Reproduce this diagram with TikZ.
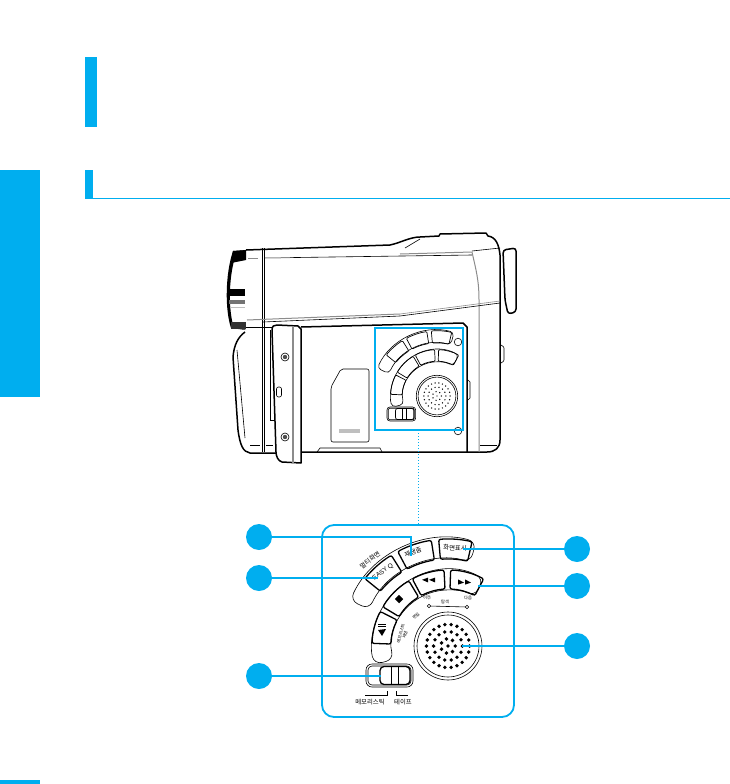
\documentclass[tikz,border=0pt]{standalone}
\usepackage{fontspec}
\setsansfont{Liberation Sans}
\newfontfamily\cjk{Noto Sans CJK KR}
\usepackage{xcolor}
\usepackage{tikz}
\usetikzlibrary{positioning,arrows.meta}
\definecolor{tabblue}{HTML}{00AEEF}
\tikzset{
  % --- page furniture and callouts --------------------------------------------
  band/.style={fill=tabblue,draw=none},
  bullet/.style={circle,fill=tabblue,inner sep=0pt,minimum size=26pt},
  lead/.style={tabblue,line width=1.6pt},
  % --- camera line work --------------------------------------------------------
  hull/.style={black,line width=1.5pt,line join=round},
  fine/.style={black,line width=0.6pt},
  pale/.style={black!45,line width=1pt},
  % --- printed labels -----------------------------------------------------------
  klab/.style={font=\cjk\fontsize{6.4}{7}\selectfont,inner sep=0pt},
  ksmall/.style={font=\cjk\fontsize{4.2}{4.6}\selectfont,inner sep=0pt,align=center},
  % ring sector for the keys: angles, then inner and outer radius
  keysec/.style n args={4}{insert path={
    (#1:#4) arc[start angle=#1,end angle=#2,radius=#4] --
    (#2:#3) arc[start angle=#2,end angle=#1,radius=#3] -- cycle}},
  % the key field; #1 key line width, #2 corner radius, #3 dot radius
  pics/keypad/.style n args={3}{code={
    \begin{scope}[yscale=-1]
      \draw[fine,rounded corners=4*#2,keysec={75}{155}{87}{108}];
      \draw[fine,rounded corners=4*#2,keysec={62}{194}{56}{76}];
      \foreach \aa/\ab in {77/95,99/118,122/141}
        \draw[line width=#1,rounded corners=#2,keysec={\aa}{\ab}{87}{107}];
      \foreach \aa/\ab in {62/88,93/118,121/149,153/178}
        \draw[line width=#1,rounded corners=#2,keysec={\aa}{\ab}{57}{76}];
      \draw[fine] (0,0) circle[radius=34];
      \draw[fine] (0,0) circle[radius=31];
      \fill (0,0) circle[radius=#3];
      \foreach \rr/\nn in {7.2/7,14.4/14,21.6/22}
        \foreach \ii in {1,...,\nn}
          \fill (\ii*360/\nn:\rr) circle[radius=#3];
      \draw[fine,rounded corners=3*#2] (-82,-18) rectangle (-35,-41);
      \draw[fine,rounded corners=2*#2] (-80,-20) rectangle (-37,-39);
      \draw[line width=#1,rounded corners=2*#2] (-68,-20.5) rectangle (-38,-38.5);
      \draw[fine] (-57,-20.5) -- (-57,-38.5) (-50,-20.5) -- (-50,-38.5);
    \end{scope}
  }},
}
\begin{document}
\begin{tikzpicture}[x=1pt,y=-1pt]
  \useasboundingbox (0,0) rectangle (730,784);
  % page furniture
  \fill[band] (85,57) rectangle (97,127);
  \fill[band] (85,170) rectangle (93,199);
  \fill[band] (93,198) rectangle (730,199.2);
  \fill[band] (0,170) rectangle (40,397);
  \fill[band] (0,780) rectangle (40,784);

  % lens
  \fill (247,250) -- (233,251) .. controls (225,275) and (225,310) .. (231,328) -- (246,330)
    -- (233,325) .. controls (228,305) and (229,275) .. (236,254) -- cycle;
  \fill (233,251) -- (246,250) -- (246,260) -- (231,263) -- cycle;
  \fill (229,289) rectangle (245,296);
  \fill[black!55] (229,300) rectangle (245,304);
  \fill[black!25] (230,307) rectangle (245,308);
  \fill[black!80] (231,322) rectangle (246,329);

  % body
  \draw[hull] (246,250) -- (390,245) .. controls (400,243) and (410,237) .. (420,237) -- (439,236)
    -- (440,234) -- (486,233) -- (488,236) .. controls (496,237) and (499,245) .. (500,255)
    -- (500,440) .. controls (500,448) and (495,452) .. (487,452) -- (301,452);
  \draw[hull] (245,332) .. controls (238,337) and (234,345) .. (233,357) -- (238,430)
    .. controls (240,445) and (243,452) .. (250,453) -- (276,453);
  \draw[fine] (237,350) -- (245,438);
  \draw[fine] (262,248) -- (262,452);
  \draw[fine] (264,248) -- (264,452);
  \draw[pale] (248,258) -- (258,258);
  \draw[pale] (265,258) -- (290,257.6);
  \draw[fine] (290,257.6) -- (472,255);
  \draw[fine] (405,248) -- (420,239);
  \draw[pale] (400,254) -- (472,252);
  \draw[fine] (472,251) -- (500,248);
  \draw[pale] (472,252) .. controls (476,270) and (479,280) .. (479,300) -- (479,452);
  \draw[pale] (247,320) -- (400,314);
  \draw[fine] (263,322) -- (400,316) -- (500,303);
  \draw[pale,line width=.6pt] (400,314) -- (500,301);
  \draw[fine,line width=1pt] (246,327) -- (272,327);
  \draw[fine] (250,445) -- (260,445) (266,445) -- (273,445);
  \draw[fine] (270,330) -- (270,420) -- (274,420);
  \draw[fine] (317,452) -- (320,448) -- (380,448) -- (382,452);
  \draw[fine] (480,445) -- (497,445);

  % eyepiece
  \draw[hull,rounded corners=3pt] (503,250) -- (516,248) -- (516,312) -- (508,314) -- (505,300) -- cycle;
  \draw[fine,rounded corners=1pt] (501,345) -- (504,347) -- (504,361) -- (501,363);

  % display door
  \draw[hull] (272,330) .. controls (272,326) and (274,325) .. (277,325) -- (298,326)
    -- (301,329) -- (301,463) -- (282,462) .. controls (278,461) and (276,456) .. (276,452) -- cycle;
  \draw[pale,line width=1.2pt] (293,326) -- (293,463);
  \foreach \sy in {357,437} {
    \draw[fine] (285,\sy) circle[radius=4];
    \fill[black!70] (285,\sy) circle[radius=2.2];
  }
  \draw[fine,rounded corners=2pt] (276.5,387) rectangle (281.5,397);

  % side panel
  \draw[hull] (301,327) -- (463,323) -- (467,327) -- (467,452);
  \draw[fine,rounded corners=2pt] (331,387) -- (341,369) -- (369,369) -- (369,442) -- (331,442) -- cycle;
  \fill[black!25] (339,429) rectangle (360,433);
  \draw[fine] (458,342) circle[radius=3.8];
  \draw[fine] (458,431) circle[radius=3.8];
  \draw[fine] (468,380) -- (470,382) -- (470,398) -- (468,400);
  \pic[scale=.61] at (437,396) {keypad={.7pt}{1pt}{1.2}};
  \draw[lead] (375,328) rectangle (463,430);

  % dotted link to the enlarged view
  \coordinate (zoomtop) at (418,430);
  \coordinate (zoomend) at (418,524);
  \draw[tabblue,line width=1pt,dotted] (zoomtop) -- (zoomend);

  % enlarged view
  \node[draw=tabblue,line width=1.8pt,rounded corners=12pt,minimum width=192pt,minimum height=192pt,inner sep=0pt] (frame) at (418,621) {};
  \pic at (448,646) {keypad={1.3pt}{2pt}{1.9}};

  % key symbols
  \fill[rotate around={45:(399,599)}] (396,596) rectangle (402,602);
  \foreach \tx in {425,432} \fill (\tx-3,579.8) -- (\tx+3,577.6) -- (\tx+3,582.4) -- cycle;
  \foreach \tx in {461,468} \fill (\tx+3,582.6) -- (\tx-3,579.4) -- (\tx-3,584.6) -- cycle;
  \fill (382,636) -- (378,630) -- (386,629) -- cycle;
  \fill (378,626) rectangle (386,627);
  \fill (378,623.6) rectangle (386,624.6);

  % printed labels
  \node[klab,rotate=37] (lbwide) at (370,560) {멀티화면};
  \node[font=\sffamily\fontsize{6.4}{7}\selectfont,inner sep=0pt,rotate=37] (lbeasy) at (383,572) {EASY Q};
  \node[klab,rotate=20] (lbzoom) at (413,552) {재생줌};
  \node[klab,rotate=-3] (lbinfo) at (455,548) {화면표시};
  \node[ksmall,rotate=5] (lbprev) at (427,598) {이전};
  \node[ksmall] (lbseek) at (445,602) {탐색};
  \node[ksmall] (lbnext) at (468,598) {다음};
  \node[ksmall,rotate=45] (lbedit) at (416,616) {편집};
  \node[ksmall,rotate=75] (lbplay) at (403,634) {메모리스틱\\재생};
  \draw[fine] (429,606) -- (467,607);
  \draw[fine,fill=white] (429,606) circle[radius=1.8] (467,607) circle[radius=1.8];
  \node[klab] (lbstick) at (370,702) {메모리스틱};
  \node[klab] (lbtape) at (403,702) {테이프};
  \draw[fine] (365,695) -- (387,695) -- (387,691);
  \draw[fine] (396,691) -- (396,695) -- (408,695);

  % callouts
  \node[bullet] (b1) at (259,537) {};
  \node[bullet] (b2) at (259,578) {};
  \node[bullet] (b3) at (259,676) {};
  \node[bullet] (b4) at (577,549) {};
  \node[bullet] (b5) at (577,586) {};
  \node[bullet] (b6) at (577,646) {};
  \coordinate (t1) at (411,556);
  \coordinate (t2) at (378,578);
  \coordinate (t3) at (381,676);
  \coordinate (t4) at (463,549);
  \coordinate (t5) at (478,586);
  \coordinate (t6) at (462,646);
  \draw[lead] (b1) -| (t1);
  \draw[lead] (b2) -- (t2);
  \draw[lead] (b3) -- (t3);
  \draw[lead] (b4) -- (t4);
  \draw[lead] (b5) -- (t5);
  \draw[lead] (b6) -- (t6);
\end{tikzpicture}
\end{document}
